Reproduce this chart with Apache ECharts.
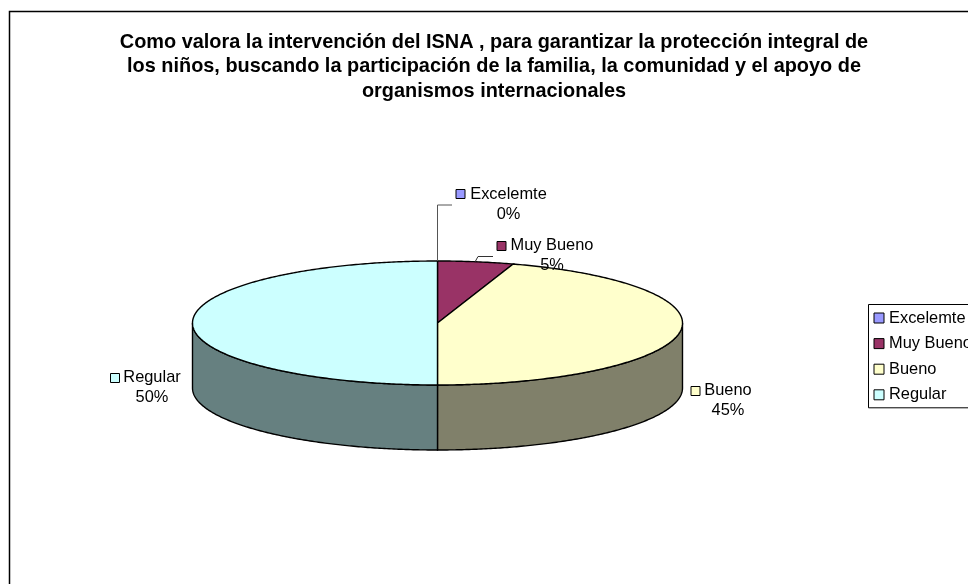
<!DOCTYPE html>
<html><head><meta charset="utf-8">
<style>html,body{margin:0;padding:0;background:#fff}#c{width:968px;height:584px}</style>
<script src="https://cdn.jsdelivr.net/npm/echarts@6/dist/echarts.min.js"></script>
</head><body><div id="c"></div>
<script>
var categories = ['Excelemte', 'Muy Bueno', 'Bueno', 'Regular'];
var values = [0, 5, 45, 50];
var topColors = ['#9999FF', '#993366', '#FFFFCC', '#CCFFFF'];
var sideColors = ['#5C5C99', '#5C1F3D', '#80806A', '#668080'];
var titleLines = [
  'Como valora la intervención del ISNA , para garantizar la protección integral de',
  'los niños, buscando la participación de la familia, la comunidad y el apoyo de',
  'organismos internacionales'
];

var FONT = '"Liberation Sans", Arial, sans-serif';
var CX = 437.5, CY = 323, RX = 245, RY = 62, DEPTH = 65;
var LABEL_POS = [[508.5, 194], [552, 245.5], [728, 390.5], [152, 377]];
var KEY_POS = [[460.5, 194], [501.5, 246], [695.5, 391], [115, 378]];
var total = values.reduce(function (a, b) { return a + b; }, 0);

function pt(t, dy) {
  return [CX + RX * Math.sin(t), CY + (dy || 0) - RY * Math.cos(t)];
}
function arc(a, b, dy) {
  var n = Math.max(2, Math.ceil(Math.abs(b - a) / 0.01)), out = [];
  for (var i = 0; i <= n; i++) out.push(pt(a + (b - a) * i / n, dy));
  return out;
}
function makeRender(idx) {
  return function (params, api) {
    var value = api.value(0);
    var before = 0;
    for (var i = 0; i < idx; i++) before += values[i];
    var a = before / total * 2 * Math.PI;
    var b = (before + value) / total * 2 * Math.PI;
    var children = [];
    var s = Math.max(a, Math.PI / 2), e = Math.min(b, Math.PI * 1.5);
    if (e > s) {
      var wall = arc(s, e, 0).concat(arc(e, s, DEPTH));
      children.push({ type: 'polygon', shape: { points: wall }, style: { fill: sideColors[idx], stroke: '#000', lineWidth: 1.4 } });
    }
    if (b > a) {
      children.push({ type: 'polygon', shape: { points: [[CX, CY]].concat(arc(a, b, 0)) }, style: { fill: topColors[idx], stroke: '#000', lineWidth: 1.4 } });
    }
    return { type: 'group', children: children };
  };
}
function labelGraphics() {
  var g = [];
  categories.forEach(function (c, i) {
    g.push({ type: 'rect', z: 20, shape: { x: KEY_POS[i][0] - 4.5, y: KEY_POS[i][1] - 4.5, width: 9, height: 9 },
      style: { fill: topColors[i], stroke: '#000', lineWidth: 1 } });
    g.push({ type: 'text', z: 20, style: { x: LABEL_POS[i][0], y: LABEL_POS[i][1] - 10, text: c + '\n' + Math.round(values[i] / total * 100) + '%',
      fill: '#000', font: '16.4px ' + FONT, lineHeight: 20.2, textAlign: 'center', align: 'center' } });
  });
  return g;
}
var series = categories.map(function (c, i) {
  return { type: 'custom', name: c, coordinateSystem: 'none', data: [[values[i]]], renderItem: makeRender(i),
    itemStyle: { color: topColors[i] }, silent: true, animation: false, z: 5 };
});
var chart = echarts.init(document.getElementById('c'), null, { renderer: 'canvas' });
chart.setOption({
  animation: false,
  backgroundColor: '#fff',
  title: { text: titleLines.join('\n'), left: 489, top: 25, textAlign: 'center',
    textStyle: { fontFamily: FONT, fontSize: 19.9, fontWeight: 'bold', color: '#000', lineHeight: 24.5 } },
  legend: { orient: 'vertical', left: 868.5, top: 304.5, padding: [5, 8, 4.5, 5], itemWidth: 10, itemHeight: 10, itemGap: 8.6,
    borderColor: '#000', borderWidth: 1, icon: 'rect',
    itemStyle: { borderColor: '#000', borderWidth: 1 },
    textStyle: { fontFamily: FONT, fontSize: 16.4, color: '#000', lineHeight: 17 },
    data: categories },
  graphic: [
    { type: 'rect', z: 0, shape: { x: 9.5, y: 11.5, width: 1000, height: 1000 }, style: { fill: 'none', stroke: '#000', lineWidth: 1.5 } },
    { type: 'polyline', z: 10, shape: { points: [[437.5, 261], [437.5, 205], [452, 205]] }, style: { stroke: '#555', lineWidth: 1, fill: 'none' } },
    { type: 'polyline', z: 10, shape: { points: [[475, 262], [478, 256.5], [493, 256.5]] }, style: { stroke: '#333', lineWidth: 1, fill: 'none' } }
  ].concat(labelGraphics()),
  series: series
});
</script></body></html>
